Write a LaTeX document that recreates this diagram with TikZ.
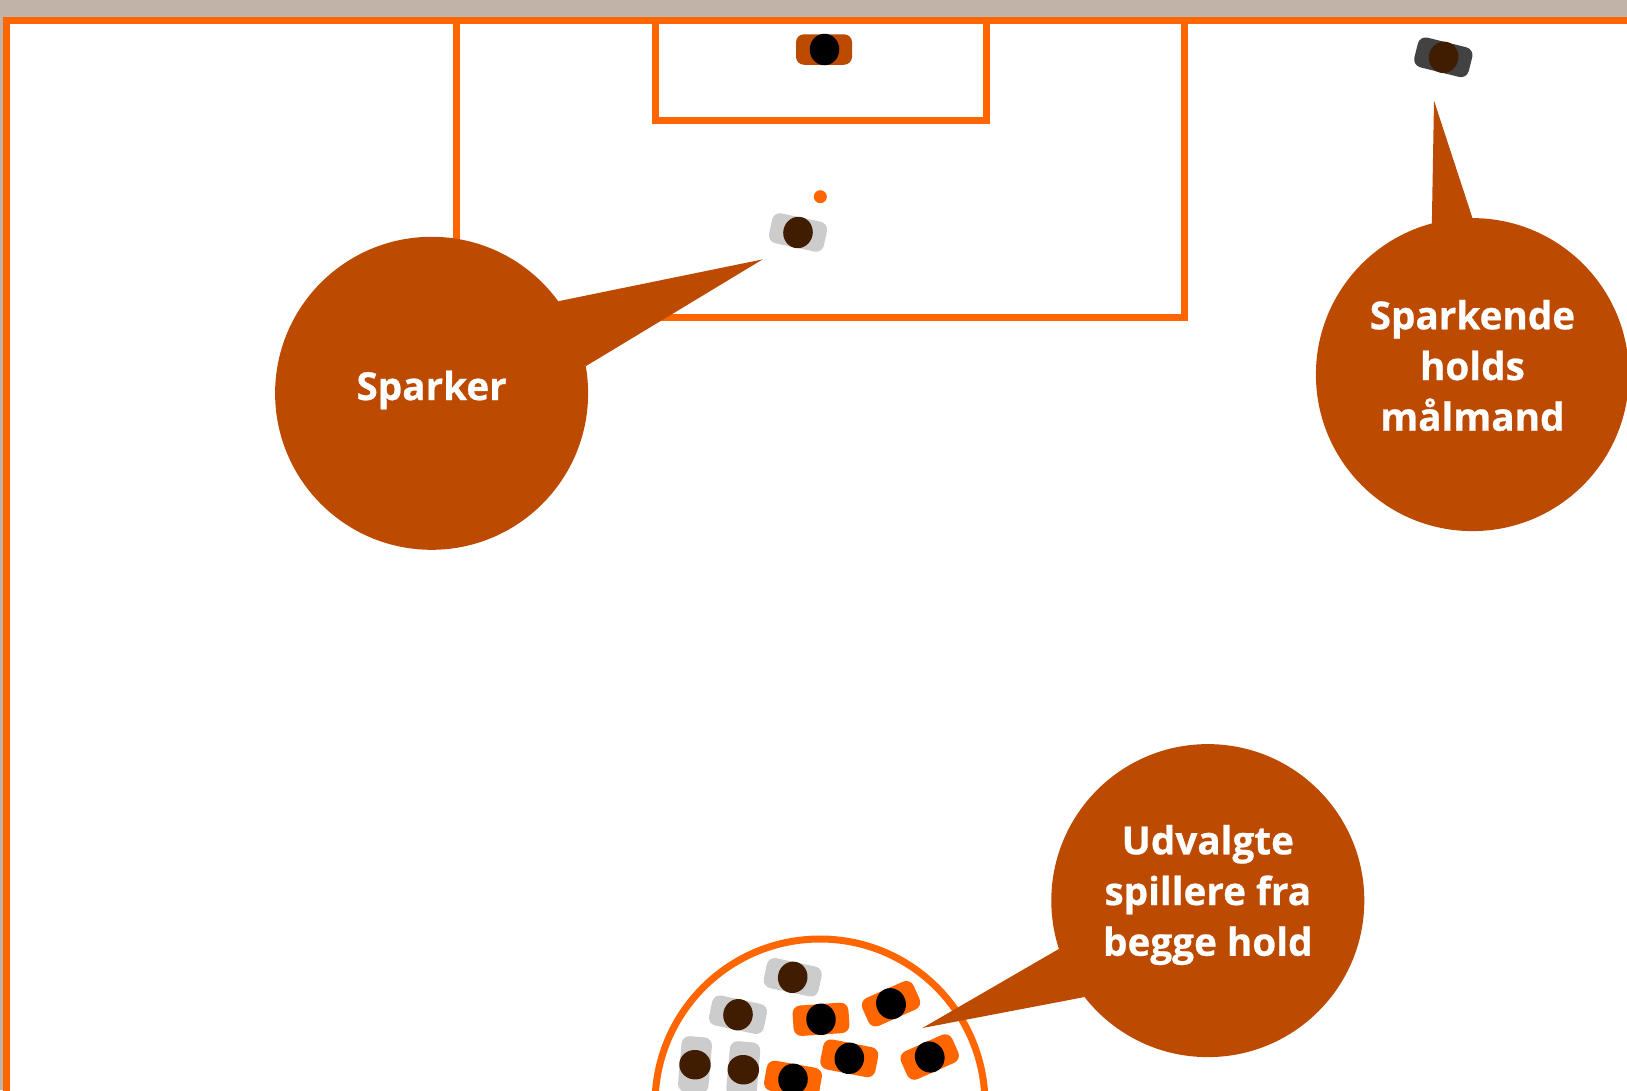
\documentclass[tikz,border=0pt]{standalone}
\usepackage{fontspec}
\setmainfont[BoldFeatures={FakeBold=0.6}]{Open Sans}
\definecolor{sand}{HTML}{C2B3A9}
\definecolor{pitchline}{HTML}{FF6600}
\definecolor{bubblefill}{HTML}{BC4A00}
\definecolor{lightshirt}{HTML}{CCCCCC}
\definecolor{darkshirt}{HTML}{424242}
\definecolor{brownhead}{HTML}{401C00}
\tikzset{
  pitch/.style={draw=pitchline,line width=7bp},
  shirt/.style={rectangle,rounded corners=8bp,minimum width=56bp,minimum height=30.5bp,inner sep=0pt},
  head/.style={ellipse,minimum width=29.5bp,minimum height=31.5bp,inner sep=0pt},
  bubble/.style={circle,fill=bubblefill,minimum size=313bp,inner sep=0pt},
  bubbletext/.style={text=white,align=center,font=\fontsize{38.8}{50.9}\selectfont\bfseries}
}
\usetikzlibrary{shapes.geometric}
\begin{document}
\begin{tikzpicture}[x=1bp,y=-1bp]
  \useasboundingbox (0,0) rectangle (1627,1090);
  \clip (0,0) rectangle (1627,1090);
  \fill[sand] (0,0) rectangle (1627,1090);

  % Pitch lines
  \draw[pitch,fill=white] (6.5,20.5) rectangle (1700,1200);
  \draw[pitch] (456.5,20.5) -- (456.5,317.5) -- (1184,317.5) -- (1184,20.5);
  \draw[pitch] (655,20.5) -- (655,120) -- (986,120) -- (986,20.5);
  \draw[pitch] (820,1104) circle (165);
  \fill[pitchline] (820.3,196.7) circle (6.5);

  % Players
  \node[shirt,fill=bubblefill] (keeperone) at (824,49.5) {};
  \node[head,fill=black] (keeperonehead) at (824.5,49.5) {};
  \node[shirt,fill=darkshirt,rotate=-14] (keepertwo) at (1443.3,57.3) {};
  \node[head,fill=brownhead,rotate=-14] (keepertwohead) at (1443.6,57.3) {};
  \foreach \n/\x/\y/\r in {a/798/232.5/12,b/792.7/977.3/12,c/738/1014.7/12,d/695/1064.7/-85,e/743.3/1069.7/-85}
    \node[shirt,fill=lightshirt,rotate=\r*-1] (grey\n) at (\x,\y) {}
      node[head,fill=brownhead,rotate=\r*-1] (grey\n head) at (\x,\y) {};
  \foreach \n/\x/\y/\r in {a/821/1019.3/-4,b/891/1003.7/-24,c/849.3/1058.3/11,d/929.7/1057/-24,e/793/1079.3/10}
    \node[shirt,fill=pitchline,rotate=\r*-1] (orange\n) at (\x,\y) {}
      node[head,fill=black,rotate=\r*-1] (orange\n head) at (\x,\y) {};

  % Speech bubbles
  \node[bubble] (sparker) at (431.6,393.3) {};
  \coordinate (sparkertip) at (762.6,259.4);
  \fill[bubblefill] (sparker.36) -- (sparkertip) -- (sparker.10.3) -- cycle;
  \node[bubbletext] (sparkertext) at (431.6,390) {Sparker};

  \node[bubble] (malmand) at (1472.4,374.6) {};
  \coordinate (malmandtip) at (1434,100.6);
  \fill[bubblefill] (malmand.105.3) -- (malmandtip) -- (malmand.90) -- cycle;
  \node[bubbletext] (malmandtext) at (1472.4,365.5) {Sparkende\\holds\\målmand};

  \node[bubble] (spillere) at (1207.8,900.6) {};
  \coordinate (spilleretip) at (922.4,1028);
  \fill[bubblefill] (spillere.198.5) -- (spilleretip) -- (spillere.218.5) -- cycle;
  \node[bubbletext] (spilleretext) at (1207.8,895) {Udvalgte\\spillere fra\\begge hold};
\end{tikzpicture}
\end{document}
